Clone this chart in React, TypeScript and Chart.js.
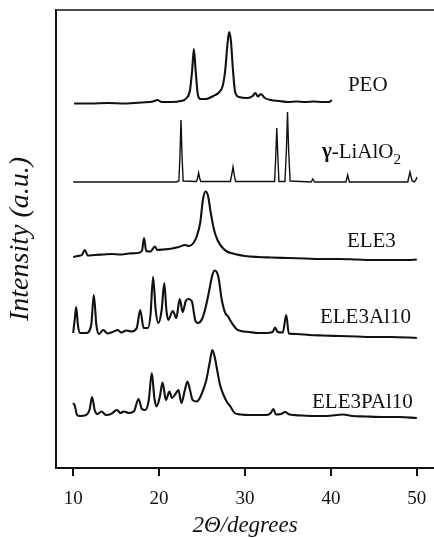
import { useEffect, useRef } from "react";
import { Chart, registerables } from "chart.js";

Chart.register(...registerables);

// ---- data (2θ in degrees, intensity in arbitrary units, traces stacked) ----
const X_TICKS = [10, 20, 30, 40, 50];

const PEO_2THETA = [10.1, 12, 14, 16, 18, 19.3, 19.8, 20.3, 21.5, 22.5, 23.2, 23.6, 23.85, 24.05, 24.25, 24.5, 24.8, 25.5, 26.3, 26.9, 27.4, 27.7, 27.95, 28.15, 28.35, 28.6, 28.85, 29.3, 30.3, 30.9, 31.2, 31.5, 31.85, 32.3, 33, 34, 35, 36, 37, 38, 39, 39.8, 40.1];
const PEO_INT = [364.5, 364.5, 365, 364.5, 365.5, 366.5, 368, 366, 366, 367, 370, 378, 398, 419, 398, 374, 369, 369, 372, 375, 382, 398, 423, 436, 428, 398, 376, 371, 370, 372, 375, 371.5, 374, 370, 368, 367, 366, 366.5, 366, 366.5, 366, 366, 368];

const LIALO2_2THETA = [10, 14, 18, 22, 22.3, 22.42, 22.55, 22.68, 22.8, 24.35, 24.48, 24.6, 24.72, 24.85, 28.3, 28.45, 28.6, 28.75, 28.9, 33.45, 33.58, 33.7, 33.82, 33.95, 34.65, 34.82, 34.95, 35.08, 35.25, 37.7, 37.9, 38.1, 41.75, 41.95, 42.15, 48.95, 49.2, 49.45, 49.7, 49.9, 50];
const LIALO2_INT = [286, 286, 286, 286, 287, 310, 348, 310, 287, 286.5, 290, 295, 290, 286.5, 286.5, 293, 301, 293, 286.5, 286.5, 312, 340, 312, 286.5, 286.5, 318, 356, 318, 287, 286, 289, 286, 286, 293, 286, 286, 296, 287, 286, 288, 291];

const ELE3_2THETA = [10, 10.5, 11, 11.35, 11.7, 12.5, 13.5, 14.5, 15.5, 16.5, 17.5, 18, 18.25, 18.5, 19, 19.5, 19.8, 20.5, 21.5, 22.3, 23, 23.5, 24, 24.4, 24.8, 25.1, 25.4, 25.7, 26, 26.4, 26.8, 27.3, 27.9, 28.8, 30, 31.5, 33, 35, 37, 39, 41, 43, 45, 47, 49, 50];
const ELE3_INT = [211, 212, 213, 218, 212.5, 213, 213.5, 214, 213.5, 214.5, 215, 217, 230, 217, 216.5, 221.5, 218, 218.5, 219.5, 221, 223, 222, 225, 232, 246, 268, 276.5, 272, 256, 238, 228, 221, 216.5, 214, 212, 211, 210.5, 210, 209.5, 209, 209, 208.5, 208, 208, 208, 208.5];

const ELE3AL10_2THETA = [10, 10.2, 10.35, 10.55, 10.8, 11.5, 12.1, 12.4, 12.7, 13, 13.5, 14, 14.6, 15.2, 15.6, 16.2, 16.8, 17.4, 17.8, 18.2, 18.7, 19, 19.3, 19.6, 19.9, 20.3, 20.6, 20.85, 21.05, 21.6, 22, 22.4, 22.75, 23.1, 23.4, 23.8, 24.2, 24.5, 25, 25.4, 25.8, 26.2, 26.5, 26.9, 27.3, 27.7, 28, 28.4, 29, 29.5, 30.5, 31.5, 32.5, 33.2, 33.5, 33.8, 34.4, 34.8, 35.1, 36, 37.5, 39, 41, 43, 45, 47, 49, 50];
const ELE3AL10_INT = [135, 150, 161, 143, 135, 135, 143, 173, 143, 134, 138, 134.5, 136, 138, 135.5, 137.5, 136.5, 140, 158, 140, 140, 153, 191, 158, 145, 158, 185, 158, 148, 157, 150, 169, 156, 167, 169, 167, 148, 145, 149, 160, 176, 193, 197.5, 191, 168, 155, 152, 146, 139, 137, 136, 135, 135, 136, 140.5, 136, 135.5, 153, 134.5, 134, 133, 132.5, 132, 131.5, 131, 131, 130.5, 130];

const ELE3PAL10_2THETA = [10, 10.2, 10.45, 10.8, 11.5, 11.9, 12.2, 12.5, 12.8, 13.3, 13.8, 14.4, 15.1, 15.5, 15.9, 16.5, 17.1, 17.6, 18, 18.4, 18.8, 19.15, 19.45, 19.7, 20.1, 20.4, 20.8, 21.2, 21.5, 21.9, 22.25, 22.6, 23, 23.3, 23.6, 23.9, 24.4, 24.9, 25.5, 25.9, 26.2, 26.5, 26.8, 27.1, 27.5, 27.9, 28.3, 28.8, 29.5, 30.5, 31.5, 32.5, 33, 33.3, 33.6, 34.2, 34.65, 35.2, 36.5, 38, 39.5, 41.4, 42.5, 44, 46, 48, 50];
const ELE3PAL10_INT = [65, 62, 53, 52, 53, 58, 71, 58, 54, 56.5, 53, 54, 58, 55, 56.5, 55, 57, 69, 59, 58, 68, 95, 70, 61.5, 72, 85.5, 68, 76.5, 70, 74, 78, 65, 78, 86.5, 78, 68, 66.5, 73, 88, 106, 118, 110, 96, 83, 73, 66, 61.5, 55, 53.5, 53, 53, 53, 55, 59, 53.5, 54, 56, 53.5, 52.5, 52, 52, 53.5, 52, 51.5, 51, 51, 50];

const SERIES_NAMES = ["PEO", "γ-LiAlO2", "ELE3", "ELE3Al10", "ELE3PAl10"];
const LABEL_X = [41.98, 38.95, 41.86, 38.72, 37.8];
const LABEL_Y = [383, 316, 227, 151, 66];

const X_TITLE = "2Θ/degrees";
const Y_TITLE = "Intensity (a.u.)";

const INK = "#111111";
const SERIF = "'Liberation Serif', 'Times New Roman', serif";

type Seg = { t: string; bold?: boolean; sub?: boolean };

function richLabel(name: string): Seg[] {
  if (name === "γ-LiAlO2") {
    return [{ t: "γ", bold: true }, { t: "-LiAlO" }, { t: "2", sub: true }];
  }
  return [{ t: name }];
}

const framePlugin = {
  id: "frameTop",
  afterDraw(chart: any) {
    const { ctx, chartArea } = chart;
    ctx.save();
    ctx.strokeStyle = INK;
    ctx.lineWidth = 1.5;
    ctx.beginPath();
    ctx.moveTo(chartArea.left, chartArea.top);
    ctx.lineTo(chartArea.right, chartArea.top);
    ctx.stroke();
    ctx.restore();
  },
};

const labelPlugin = {
  id: "traceLabels",
  afterDatasetsDraw(chart: any) {
    const { ctx, scales } = chart;
    const size = 21;
    ctx.save();
    ctx.fillStyle = INK;
    ctx.textBaseline = "middle";
    ctx.textAlign = "left";
    SERIES_NAMES.forEach((name, i) => {
      let x = scales.x.getPixelForValue(LABEL_X[i]);
      const y = scales.y.getPixelForValue(LABEL_Y[i]);
      richLabel(name).forEach((s) => {
        const fs = s.sub ? size * 0.72 : size;
        ctx.font = `${s.bold ? "bold " : ""}${fs}px ${SERIF}`;
        ctx.fillText(s.t, x, s.sub ? y + size * 0.38 : y);
        x += ctx.measureText(s.t).width;
      });
    });
    ctx.restore();
  },
};

function pts(xs: number[], ys: number[]) {
  return xs.map((x, i) => ({ x, y: ys[i] }));
}

export default function App() {
  const ref = useRef<HTMLCanvasElement>(null);

  useEffect(() => {
    if (!ref.current) return;
    const noisy = {
      borderColor: INK,
      borderWidth: 2.1,
      pointRadius: 0,
      cubicInterpolationMode: "monotone" as const,
      fill: false,
    };
    const chart = new Chart(ref.current, {
      type: "line",
      data: {
        datasets: [
          { label: SERIES_NAMES[0], data: pts(PEO_2THETA, PEO_INT), ...noisy },
          {
            label: SERIES_NAMES[1],
            data: pts(LIALO2_2THETA, LIALO2_INT),
            borderColor: INK,
            borderWidth: 1.4,
            pointRadius: 0,
            tension: 0,
            fill: false,
          },
          { label: SERIES_NAMES[2], data: pts(ELE3_2THETA, ELE3_INT), ...noisy },
          { label: SERIES_NAMES[3], data: pts(ELE3AL10_2THETA, ELE3AL10_INT), ...noisy },
          { label: SERIES_NAMES[4], data: pts(ELE3PAL10_2THETA, ELE3PAL10_INT), ...noisy },
        ],
      },
      options: {
        animation: false,
        responsive: false,
        maintainAspectRatio: false,
        layout: { padding: { top: 10, left: 0, right: 0, bottom: 0 } },
        plugins: {
          legend: { display: false },
          tooltip: { enabled: false },
        },
        scales: {
          x: {
            type: "linear",
            min: 8,
            max: 52,
            afterBuildTicks: (s: any) => {
              s.ticks = X_TICKS.map((v) => ({ value: v }));
            },
            afterFit: (s: any) => {
              s.height = 70;
              s.paddingLeft = 0;
              s.paddingRight = 0;
            },
            ticks: {
              color: INK,
              font: { family: SERIF, size: 19 },
              padding: 12,
              maxRotation: 0,
            },
            grid: {
              drawOnChartArea: false,
              drawTicks: true,
              tickLength: 8,
              color: INK,
              lineWidth: 2,
            },
            border: { display: true, color: INK, width: 2 },
            title: {
              display: true,
              text: X_TITLE,
              color: INK,
              font: { family: SERIF, size: 23, style: "italic" },
              padding: { top: 0, bottom: -2 },
            },
          },
          y: {
            type: "linear",
            min: 0,
            max: 458,
            afterFit: (s: any) => {
              s.width = 56;
            },
            ticks: { display: false },
            grid: { drawOnChartArea: false, drawTicks: false, tickLength: 0 },
            border: { display: true, color: INK, width: 2 },
            title: {
              display: true,
              text: Y_TITLE,
              color: INK,
              font: { family: SERIF, size: 28, style: "italic" },
              padding: { top: 4, bottom: 0 },
            },
          },
        },
      },
      plugins: [framePlugin, labelPlugin],
    });
    return () => chart.destroy();
  }, []);

  return (
    <div
      style={{
        position: "fixed",
        left: 0,
        top: 0,
        width: 434,
        height: 538,
        background: "#fff",
      }}
    >
      <canvas ref={ref} width={434} height={538} style={{ display: "block" }} />
    </div>
  );
}
